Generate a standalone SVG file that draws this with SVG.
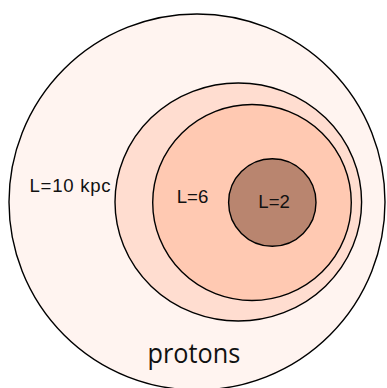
<svg xmlns="http://www.w3.org/2000/svg" width="387" height="388" viewBox="0 0 387 388">
  <style>
    .ring { stroke: #000; stroke-width: 1.4; }
    .lbl { font-family: "Liberation Sans", Arial, sans-serif; font-size: 18.6px; fill: #111; }
    .big { font-family: "Open Sans", "Noto Sans", sans-serif; font-size: 28px; fill: #111; }
  </style>
  <rect width="387" height="388" fill="#ffffff"/>
  <g id="outer">
    <circle class="ring" cx="197" cy="202" r="188" fill="#fff4f0"/>
    <text class="lbl" x="29.5" y="192.3" textLength="81" lengthAdjust="spacing">L=10 kpc</text>
    <text class="big" x="147.5" y="362.8" textLength="92.7" lengthAdjust="spacingAndGlyphs">protons</text>
  </g>
  <g id="middle">
    <ellipse class="ring" cx="238.3" cy="202" rx="123.3" ry="119" fill="#ffddd0"/>
  </g>
  <g id="inner">
    <ellipse class="ring" cx="252" cy="202.5" rx="99.3" ry="98" fill="#ffc9b2"/>
    <text class="lbl" x="176.7" y="203.3">L=6</text>
  </g>
  <g id="core">
    <circle class="ring" cx="272.3" cy="202.5" r="43.7" fill="#b9856f"/>
    <text class="lbl" x="258.3" y="208.3">L=2</text>
  </g>
  <g id="connectors"/>
</svg>
